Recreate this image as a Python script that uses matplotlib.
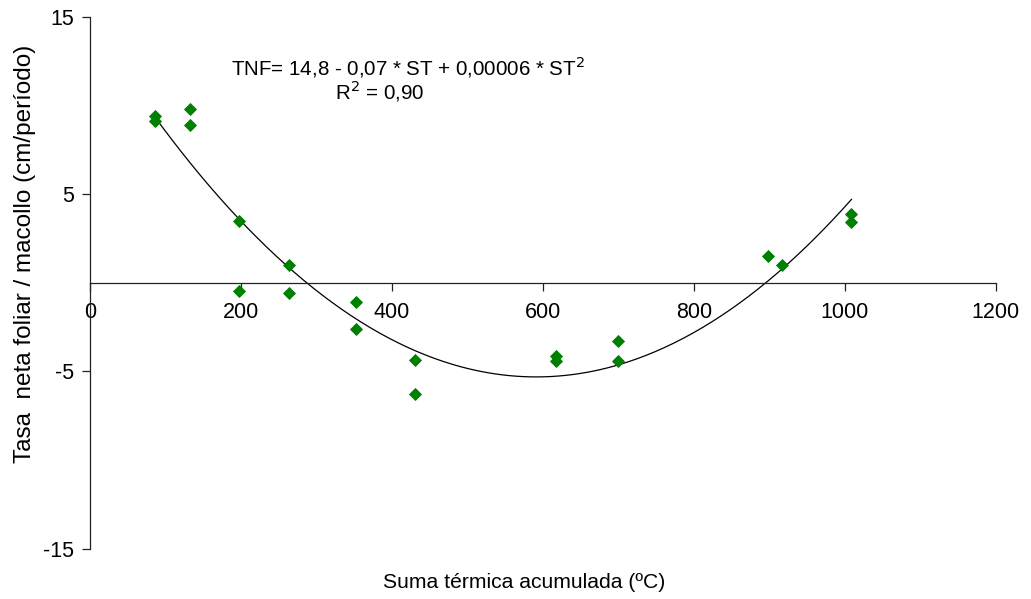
import numpy as np
import matplotlib
matplotlib.use("Agg")
import matplotlib.pyplot as plt

plt.rcParams['font.family'] = ['Liberation Sans', 'DejaVu Sans']
plt.rcParams['axes.unicode_minus'] = False

# Data
suma_termica = [86, 86, 133, 133, 198, 198, 264, 264, 353, 353, 431, 431,
                618, 618, 700, 700, 899, 917, 1009, 1009]
tasa_neta = [9.4, 9.1, 9.8, 8.9, 3.45, -0.45, 1.0, -0.6, -1.1, -2.6, -4.35, -6.3,
             -4.15, -4.4, -3.3, -4.4, 1.5, 1.0, 3.85, 3.4]
x_ticks = [0, 200, 400, 600, 800, 1000, 1200]
y_ticks = [-15, -5, 5, 15]

x = np.array(suma_termica, dtype=float)
y = np.array(tasa_neta, dtype=float)
coef = np.polyfit(x, y, 2)
xs = np.linspace(x.min(), x.max(), 300)
ys = np.polyval(coef, xs)

W, H = 1031, 599
fig = plt.figure(figsize=(W / 100, H / 100), dpi=100)
left, right, top, bottom = 89.7, 995.7, 16.7, 548.6
ax = fig.add_axes([left / W, 1 - bottom / H, (right - left) / W, (bottom - top) / H])

ax.plot(xs, ys, color='black', lw=0.9, zorder=2)
ax.plot(x, y, linestyle='none', marker='D', ms=6, color='#008000',
        markeredgecolor='#008000', markeredgewidth=0.6, zorder=3)

ax.set_xlim(0, 1200)
ax.set_ylim(-15, 15)
ax.set_xticks(x_ticks)
ax.set_yticks(y_ticks)
ax.spines['top'].set_visible(False)
ax.spines['right'].set_visible(False)
ax.spines['bottom'].set_position(('data', 0))
for s in ('left', 'bottom'):
    ax.spines[s].set_color('#222222')
    ax.spines[s].set_linewidth(0.9)
ax.tick_params(axis='both', direction='out', length=6, width=0.9, color='#222222',
               labelsize=15.5)
ax.tick_params(axis='x', pad=8)
ax.tick_params(axis='y', pad=5)

fig.text(524 / W, 1 - 583 / H, 'Suma térmica acumulada (ºC)', ha='center', va='center',
         fontsize=15.2)
fig.text(25 / W, 1 - 254 / H, 'Tasa  neta foliar / macollo (cm/período)', ha='center',
         va='center', rotation=90, fontsize=17.5)

fig.text(231 / W, 1 - 76 / H, 'TNF= 14,8 - 0,07 * ST + 0,00006 * ST$^2$', ha='left',
         va='baseline', fontsize=14.8)
fig.text(335 / W, 1 - 100 / H, 'R$^2$ = 0,90', ha='left', va='baseline', fontsize=14.8)

fig.savefig('out.png', dpi=100)
